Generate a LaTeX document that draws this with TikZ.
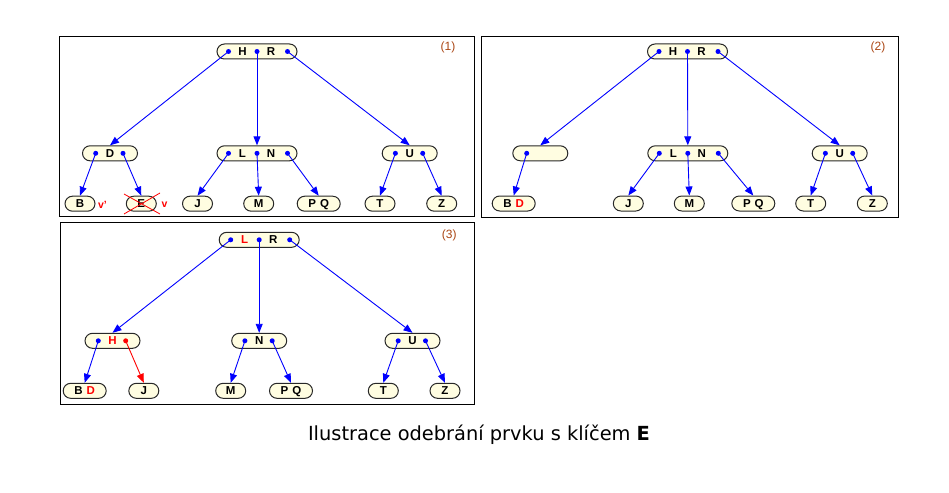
\documentclass[tikz,border=0pt]{standalone}
\usepackage{fontspec}
\setmainfont{Liberation Sans}
\newfontfamily\capfont{DejaVu Sans}
\usetikzlibrary{shapes.misc,arrows.meta}
\definecolor{nodefill}{RGB}{255,253,225}
\definecolor{nodeline}{RGB}{40,40,40}
\definecolor{numcol}{RGB}{170,70,20}
\begin{document}
\begin{tikzpicture}[x=1pt,y=-1pt,
 bnode/.style={rounded rectangle, draw=nodeline, line width=1pt, fill=nodefill, minimum height=15pt, inner sep=0pt, text height=8.2pt, text depth=0pt, font=\fontsize{11.5}{13}\selectfont\bfseries},
 wide/.style={bnode, minimum width=80pt},
 mid/.style={bnode, minimum width=55pt},
 leaf/.style={bnode, minimum width=30pt},
 leaftwo/.style={bnode, minimum width=43pt},
 key/.style={inner sep=0pt, text height=8.2pt, text depth=0pt, font=\fontsize{11.5}{13}\selectfont\bfseries},
 ptr/.style={circle, fill=blue, inner sep=0pt, minimum size=5pt},
 rptr/.style={ptr, fill=red},
 arr/.style={blue, line width=0.9pt, -{Triangle[length=9pt,width=7pt]}},
 rarr/.style={arr, red},
 frame/.style={draw=black, line width=1pt},
 num/.style={font=\fontsize{12}{14}\selectfont, text=numcol},
 redmark/.style={text=red, font=\fontsize{10.5}{12}\selectfont\bfseries, inner sep=0pt}
]
\useasboundingbox (0,0) rectangle (949,492);

% ---------- Panel 1 ----------
\draw[frame] (59.5,36.5) rectangle (474,216);
\node[num] (n1) at (448,47.5) {(1)};
\node[wide] (a) at (257,51.5) {};
\node[key] (aH) at ([xshift=-14.5pt]a.center) {H};
\node[key] (aR) at ([xshift=14pt]a.center) {R};
\node[ptr] (a0) at ([xshift=-28.5pt]a.center) {};
\node[ptr] (a1) at (a.center) {};
\node[ptr] (a2) at ([xshift=30.5pt]a.center) {};

\node[mid] (d) at (110,153.3) {};
\node[key] (dD) at (d.center) {D};
\node[ptr] (d0) at ([xshift=-14.3pt]d.center) {};
\node[ptr] (d1) at ([xshift=13pt]d.center) {};

\node[wide] (l) at (257,153.3) {};
\node[key] (lL) at ([xshift=-14.5pt]l.center) {L};
\node[key] (lN) at ([xshift=14pt]l.center) {N};
\node[ptr] (l0) at ([xshift=-28.5pt]l.center) {};
\node[ptr] (l1) at (l.center) {};
\node[ptr] (l2) at ([xshift=30.5pt]l.center) {};

\node[mid] (u) at (409.7,153.3) {};
\node[key] (uU) at (u.center) {U};
\node[ptr] (u0) at ([xshift=-14.3pt]u.center) {};
\node[ptr] (u1) at ([xshift=13pt]u.center) {};

\node[leaf] (b) at (80,203.7) {B};
\node[leaf] (e) at (141.3,203.7) {E};
\node[leaf] (j) at (197.5,203.7) {J};
\node[leaf] (m) at (258.7,203.7) {M};
\node[leaftwo] (pq) at (318.7,203.7) {P\hspace{4pt}Q};
\node[leaf] (t) at (380,203.7) {T};
\node[leaf] (z) at (441.7,203.7) {Z};

\node[redmark] (vp) at (102.5,205) {v'};
\node[redmark] (v) at (164.5,205) {v};
\draw[red, line width=0.8pt] (124,194) -- (160,214);
\draw[red, line width=0.8pt] (124,214) -- (160,193);

\draw[arr] (a0.center) -- (d.north);
\draw[arr] (a1.center) -- (l.north);
\draw[arr] (a2.center) -- (u.north);
\draw[arr] (d0.center) -- (b.north);
\draw[arr] (d1.center) -- (e.north);
\draw[arr] (l0.center) -- (j.north);
\draw[arr] (l1.center) -- (m.north);
\draw[arr] (l2.center) -- (pq.north);
\draw[arr] (u0.center) -- (t.north);
\draw[arr] (u1.center) -- (z.north);

% ---------- Panel 2 ----------
\draw[frame] (481,36.5) rectangle (898,217);
\node[num] (n2) at (878,47) {(2)};
\node[wide] (a2n) at (687.5,51.5) {};
\node[key] (a2H) at ([xshift=-14.5pt]a2n.center) {H};
\node[key] (a2R) at ([xshift=14pt]a2n.center) {R};
\node[ptr] (a2p0) at ([xshift=-28.5pt]a2n.center) {};
\node[ptr] (a2p1) at (a2n.center) {};
\node[ptr] (a2p2) at ([xshift=30.5pt]a2n.center) {};

\node[mid] (emp) at (540.3,153.3) {};
\node[ptr] (emp0) at ([xshift=-13.6pt]emp.center) {};

\node[wide] (l2n) at (687.8,153.3) {};
\node[key] (l2L) at ([xshift=-14.5pt]l2n.center) {L};
\node[key] (l2N) at ([xshift=14pt]l2n.center) {N};
\node[ptr] (l2p0) at ([xshift=-28.5pt]l2n.center) {};
\node[ptr] (l2p1) at (l2n.center) {};
\node[ptr] (l2p2) at ([xshift=30.5pt]l2n.center) {};

\node[mid] (u2n) at (839.7,153.3) {};
\node[key] (u2U) at (u2n.center) {U};
\node[ptr] (u2p0) at ([xshift=-14.3pt]u2n.center) {};
\node[ptr] (u2p1) at ([xshift=13pt]u2n.center) {};

\node[leaftwo] (bd2) at (513.7,203.5) {B\hspace{4pt}\textcolor{red}{D}};
\node[leaf] (j2) at (628.3,203.5) {J};
\node[leaf] (m2) at (689.3,203.5) {M};
\node[leaftwo] (pq2) at (753.3,203.5) {P\hspace{4pt}Q};
\node[leaf] (t2) at (810.7,203.5) {T};
\node[leaf] (z2) at (872.3,203.5) {Z};

\draw[arr] (a2p0.center) -- (emp.north);
\draw[arr] (a2p1.center) -- (l2n.north);
\draw[arr] (a2p2.center) -- (u2n.north);
\draw[arr] (emp0.center) -- (bd2.north);
\draw[arr] (l2p0.center) -- (j2.north);
\draw[arr] (l2p1.center) -- (m2.north);
\draw[arr] (l2p2.center) -- (pq2.north);
\draw[arr] (u2p0.center) -- (t2.north);
\draw[arr] (u2p1.center) -- (z2.north);

% ---------- Panel 3 ----------
\draw[frame] (60,222.5) rectangle (474,404);
\node[num] (n3) at (449.3,235) {(3)};
\node[wide] (a3n) at (259.2,239.8) {};
\node[key, text=red] (a3L) at ([xshift=-14.5pt]a3n.center) {L};
\node[key] (a3R) at ([xshift=14pt]a3n.center) {R};
\node[ptr] (a3p0) at ([xshift=-28.5pt]a3n.center) {};
\node[ptr] (a3p1) at (a3n.center) {};
\node[ptr] (a3p2) at ([xshift=30.5pt]a3n.center) {};

\node[mid] (h3n) at (112.5,340.8) {};
\node[key, text=red] (h3H) at (h3n.center) {H};
\node[ptr] (h3p0) at ([xshift=-14.2pt]h3n.center) {};
\node[rptr] (h3p1) at ([xshift=13.2pt]h3n.center) {};

\node[mid] (n3n) at (259.2,340.8) {};
\node[key] (n3N) at (n3n.center) {N};
\node[ptr] (n3p0) at ([xshift=-14.3pt]n3n.center) {};
\node[ptr] (n3p1) at ([xshift=13pt]n3n.center) {};

\node[mid] (u3n) at (412.5,340.8) {};
\node[key] (u3U) at (u3n.center) {U};
\node[ptr] (u3p0) at ([xshift=-14.3pt]u3n.center) {};
\node[ptr] (u3p1) at ([xshift=13pt]u3n.center) {};

\node[leaftwo] (bd3) at (84.7,390.8) {B\hspace{4pt}\textcolor{red}{D}};
\node[leaf] (j3) at (143.8,390.8) {J};
\node[leaf] (m3) at (230.7,390.8) {M};
\node[leaftwo] (pq3) at (291,390.8) {P\hspace{4pt}Q};
\node[leaf] (t3) at (383.3,390.8) {T};
\node[leaf] (z3) at (445,390.8) {Z};

\draw[arr] (a3p0.center) -- (h3n.north);
\draw[arr] (a3p1.center) -- (n3n.north);
\draw[arr] (a3p2.center) -- (u3n.north);
\draw[arr] (h3p0.center) -- (bd3.north);
\draw[rarr] (h3p1.center) -- (j3.north);
\draw[arr] (n3p0.center) -- (m3.north);
\draw[arr] (n3p1.center) -- (pq3.north);
\draw[arr] (u3p0.center) -- (t3.north);
\draw[arr] (u3p1.center) -- (z3.north);

% ---------- Caption ----------
\node[font=\capfont\fontsize{19.4}{23}\selectfont, anchor=base, inner sep=0pt] (cap) at (479,440) {Ilustrace odebrání prvku s klíčem \textbf{E}};
\end{tikzpicture}
\end{document}
